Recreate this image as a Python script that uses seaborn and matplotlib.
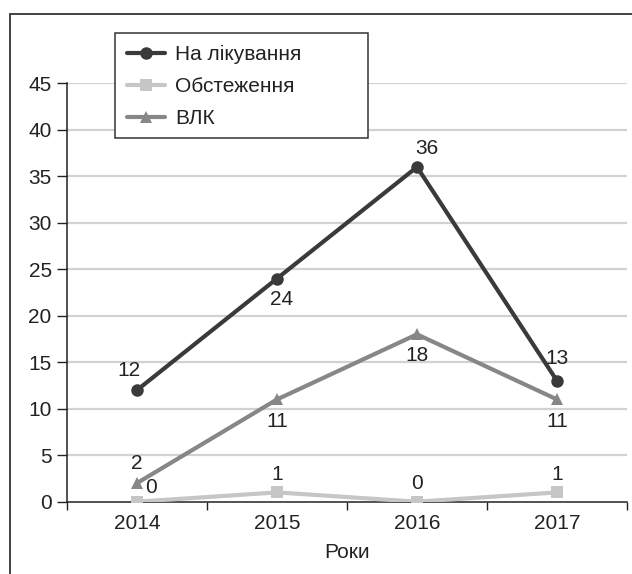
import matplotlib
matplotlib.use("Agg")
import matplotlib.pyplot as plt
import matplotlib.patches as mpatches
from matplotlib.lines import Line2D
import numpy as np
import pandas as pd
import seaborn as sns

years = ["2014", "2015", "2016", "2017"]
treatment = [12, 24, 36, 13]      # На лікування
examination = [0, 1, 0, 1]        # Обстеження
vlk = [2, 11, 18, 11]             # ВЛК

series_names = ["На лікування", "Обстеження", "ВЛК"]
series_values = [treatment, examination, vlk]
colors = {"На лікування": "#3a3a3a", "Обстеження": "#c6c6c6", "ВЛК": "#878787"}
markers = {"На лікування": "o", "Обстеження": "s", "ВЛК": "^"}

rows = []
for name, vals in zip(series_names, series_values):
    for i, v in enumerate(vals):
        rows.append({"pos": i, "year": years[i], "value": v, "series": name})
df = pd.DataFrame(rows)

sns.set_theme(style="white")
plt.rcParams["font.family"] = ["Liberation Sans", "DejaVu Sans"]

FS = 15

fig = plt.figure(figsize=(6.32, 5.74), dpi=100)
ax = fig.add_axes([67 / 632, 1 - 501.7 / 574, 560 / 632, (501.7 - 83.3) / 574])

# light horizontal grid behind the data
for yv in range(5, 50, 5):
    ax.axhline(yv, color="#d2d2d2", lw=1.6, zorder=0)

sns.lineplot(data=df, x="pos", y="value", hue="series", style="series",
             hue_order=series_names, style_order=series_names,
             palette=colors, markers=markers, dashes=False, lw=3,
             markersize=9, markeredgewidth=0, ax=ax, legend=False, zorder=3)

ax.set_xlim(-0.5, 3.5)
ax.set_ylim(0, 45)
ax.set_yticks(range(0, 50, 5))
ax.set_xticks(range(4))
ax.set_xticklabels(years)
ax.set_xticks(np.arange(-0.5, 4, 1), minor=True)
ax.tick_params(axis="x", which="major", length=0, pad=9, labelsize=FS, labelcolor="#222222")
ax.tick_params(axis="x", which="minor", length=6, width=1, color="#222222", direction="out", bottom=True)
ax.tick_params(axis="y", length=7, width=1, color="#222222", direction="out", left=True,
               pad=4, labelsize=FS, labelcolor="#222222")
for side in ["top", "right"]:
    ax.spines[side].set_visible(False)
for side in ["left", "bottom"]:
    ax.spines[side].set_color("#222222")
    ax.spines[side].set_linewidth(1.1)
ax.set_xlabel("Роки", fontsize=FS, color="#222222", labelpad=7)
ax.set_ylabel("")

# value labels: (dx, dy) offsets in points for each point of each series
label_offsets = {
    "На лікування": [(-6, 14), (3, -15), (7, 13), (0, 16)],
    "Обстеження": [(10, 10), (0, 13), (0, 13), (0, 13)],
    "ВЛК": [(0, 14), (0, -16), (0, -15), (0, -16)],
}
for name, vals in zip(series_names, series_values):
    for i, v in enumerate(vals):
        dx, dy = label_offsets[name][i]
        ax.annotate(str(v), (i, v), xytext=(dx, dy), textcoords="offset points",
                    ha="center", va="center", fontsize=FS, color="#222222", zorder=5)

handles = [Line2D([0], [0], color=colors[n], lw=3, marker=markers[n], markersize=9,
                  markeredgewidth=0) for n in series_names]
leg = ax.legend(handles, series_names, loc="upper left",
                bbox_to_anchor=(121 / 632, 1 - 39 / 574), bbox_transform=fig.transFigure,
                fontsize=FS, frameon=False, handlelength=1.8,
                handletextpad=0.5, labelspacing=0.62, borderpad=0.3, borderaxespad=0)
leg.set_zorder(10)
for t in leg.get_texts():
    t.set_color("#222222")

# legend box, drawn over the grid and under the legend entries
ax.add_patch(mpatches.Rectangle((115 / 632, 1 - 138 / 574), 253 / 632, 105 / 574,
                                transform=fig.transFigure, fill=True, clip_on=False,
                                facecolor="white", edgecolor="#333333", lw=1.1,
                                zorder=9))

# outer frame around the chart
fig.patches.append(mpatches.Rectangle((9.5 / 632, -0.1), 1.2, 1.1 - 13.5 / 574,
                                      transform=fig.transFigure, fill=False,
                                      edgecolor="#333333", lw=1.3))

fig.savefig("out.png", dpi=100)
